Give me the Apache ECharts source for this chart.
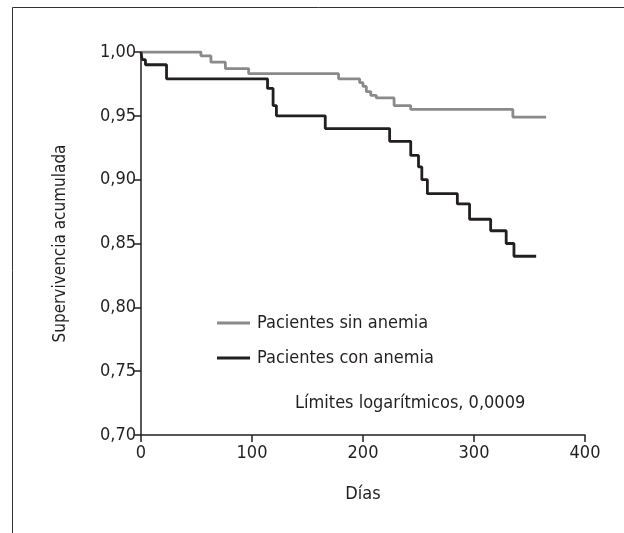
<!DOCTYPE html>
<html>
<head>
<meta charset="utf-8">
<script src="https://cdn.jsdelivr.net/npm/echarts@6/dist/echarts.min.js"></script>
<style>
  html, body { margin: 0; padding: 0; background: #fff; }
  #chart { width: 624px; height: 533px; }
</style>
</head>
<body>
<div id="chart"></div>
<script>
// Kaplan-Meier: [día, supervivencia tras el evento]
const sinAnemia = [
  [0, 1.0], [54, 0.997], [63, 0.992], [76, 0.987], [97, 0.983],
  [178, 0.979], [197, 0.976], [200, 0.973], [203, 0.969], [207, 0.966],
  [212, 0.964], [228, 0.958], [243, 0.955], [335, 0.949], [365, 0.949]
];
const conAnemia = [
  [0, 1.0], [1, 0.994], [4, 0.990], [23, 0.979], [114, 0.9715],
  [119, 0.958], [122, 0.950], [166, 0.940], [224, 0.930], [243, 0.919],
  [250, 0.910], [253, 0.900], [258, 0.889], [285, 0.881], [296, 0.869],
  [315, 0.860], [329, 0.850], [336, 0.840], [356, 0.840]
];
const seriesNames = ['Pacientes sin anemia', 'Pacientes con anemia'];
const seriesColors = ['#8a8a8a', '#231f20'];
const notaTexto = 'Límites logarítmicos, 0,0009';

const FONT = '"DejaVu Sans Condensed", "Liberation Sans Narrow", sans-serif';
const INK = '#231f20';
const FS = 18;

const chart = echarts.init(document.getElementById('chart'));

chart.setOption({
  animation: false,
  grid: { left: 141, right: 39, top: 52, bottom: 98 },
  legend: {
    orient: 'vertical',
    left: 217,
    top: 314,
    padding: 0,
    itemWidth: 33,
    itemHeight: 3,
    itemGap: 17,
    icon: 'rect',
    textStyle: { fontFamily: FONT, fontSize: FS, color: INK, padding: [0, 0, 0, 2] },
    data: seriesNames
  },
  xAxis: {
    type: 'value',
    min: 0, max: 400, interval: 100,
    name: 'Días',
    nameLocation: 'middle',
    nameGap: 50,
    nameTextStyle: { fontFamily: FONT, fontSize: FS, color: INK },
    axisLine: { lineStyle: { color: INK, width: 1.5 } },
    axisTick: { length: 7, lineStyle: { color: INK, width: 1.5 } },
    axisLabel: { fontFamily: FONT, fontSize: FS, color: INK, margin: 9 },
    splitLine: { show: false }
  },
  yAxis: {
    type: 'value',
    min: 0.70, max: 1.00, interval: 0.05,
    name: 'Supervivencia acumulada',
    nameLocation: 'middle',
    nameGap: 72,
    nameTextStyle: { fontFamily: FONT, fontSize: 17, color: INK },
    axisLine: { show: true, lineStyle: { color: INK, width: 1.5 } },
    axisTick: { show: true, length: 7, lineStyle: { color: INK, width: 1.5 } },
    axisLabel: {
      fontFamily: FONT, fontSize: FS, color: INK, margin: 5,
      formatter: v => v.toFixed(2).replace('.', ',')
    },
    splitLine: { show: false }
  },
  series: [
    {
      name: seriesNames[0],
      type: 'line',
      step: 'end',
      data: sinAnemia,
      showSymbol: false,
      color: seriesColors[0],
      lineStyle: { width: 2.8, color: seriesColors[0] },
      z: 2
    },
    {
      name: seriesNames[1],
      type: 'line',
      step: 'end',
      data: conAnemia,
      showSymbol: false,
      color: seriesColors[1],
      lineStyle: { width: 2.8, color: seriesColors[1] },
      z: 3
    }
  ],
  graphic: [
    {
      type: 'rect',
      shape: { x: 12.5, y: 7.5, width: 700, height: 600 },
      style: { fill: 'none', stroke: '#333', lineWidth: 1 },
      silent: true
    },
    {
      type: 'text',
      left: 295,
      top: 394,
      style: { text: notaTexto, font: FS + 'px ' + FONT, fill: INK }
    }
  ]
});
</script>
</body>
</html>
